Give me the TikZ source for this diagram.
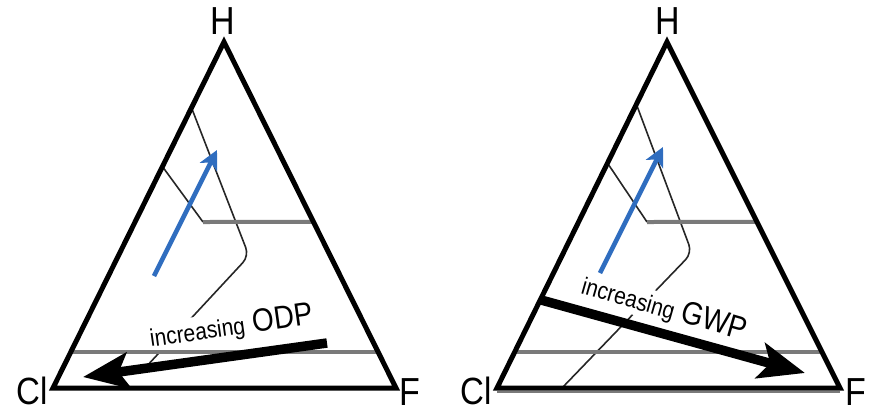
\documentclass[tikz,border=0pt]{standalone}
\usepackage{fontspec}
\setmainfont{Liberation Sans}
\usetikzlibrary{positioning,arrows.meta,calc}
\definecolor{ink}{HTML}{000000}
\definecolor{tieblue}{HTML}{2F6DBF}
\definecolor{tiegray}{HTML}{7A7A7A}
\newcommand{\tallword}[2]{\fontsize{#1}{#1}\selectfont\scalebox{1}[1.15]{#2}}

\begin{document}
\begin{tikzpicture}[x=1pt,y=-1pt,
  edge/.style={draw=ink,line width=5pt,line join=miter},
  tie/.style={draw=tiegray,line width=4pt},
  contour/.style={draw=ink!85,line width=1.6pt,rounded corners=9pt},
  trend/.style={draw=ink,line width=9.5pt,-{Stealth[length=46pt,width=36pt,inset=10pt]}},
  hpath/.style={draw=tieblue,line width=4.5pt,-{Stealth[length=19pt,width=19pt,inset=5pt]}},
  corner/.style={inner sep=0pt},
  note/.style={fill=white,inner sep=1pt,anchor=base west}]
\useasboundingbox (0,0) rectangle (871,413);
% left triangle: ODP
\coordinate (hLeft) at (224,42);
\coordinate (clLeft) at (53,388);
\coordinate (fLeft) at (396,388);
\node[corner] (hLabelL) at (223,21) {\tallword{34}{H}};
\node[corner] (clLabelL) at (32,391) {\tallword{33}{Cl}};
\node[corner] (fLabelL) at (410,392) {\tallword{34}{F}};
\draw[contour] ($(clLeft)!0.81!(hLeft)$) -- (249,256) -- (145,368);
\draw[contour] ($(clLeft)!0.64!(hLeft)$) -- (203,222);
\node[note,rotate=8] (odpNote) at (150,347) {\tallword{21}{increasing}\fontsize{28}{28}\selectfont\ \tallword{28}{ODP}};
\draw[tie] (203,222) -- ($(fLeft)!0.48!(hLeft)$);
\draw[tie] ($(clLeft)!0.104!(hLeft)$) -- ($(fLeft)!0.104!(hLeft)$);
\coordinate (odpFrom) at (327,343);
\coordinate (odpTo) at (83,377);
\draw[trend] (odpFrom) -- (odpTo);
\coordinate (hLeftFrom) at (154,276);
\coordinate (hLeftTo) at (217,150);
\draw[hpath] (hLeftFrom) -- (hLeftTo);
\draw[edge] (hLeft) -- (fLeft) -- (clLeft) -- cycle;
% right triangle: GWP
\coordinate (hRight) at (667,42);
\coordinate (clRight) at (497,388);
\coordinate (fRight) at (840,388);
\node[corner] (hLabelR) at (668,21) {\tallword{34}{H}};
\node[corner] (clLabelR) at (476,391) {\tallword{33}{Cl}};
\node[corner] (fLabelR) at (856,392) {\tallword{34}{F}};
\draw[contour] ($(clRight)!0.82!(hRight)$) -- (692,253) -- (562,388);
\draw[contour] ($(clRight)!0.65!(hRight)$) -- (647,222);
\node[note,rotate=-16] (gwpNote) at (579,293) {\tallword{21}{increasing}\fontsize{28}{28}\selectfont\ \tallword{28}{GWP}};
\draw[tie] (647,222) -- ($(fRight)!0.48!(hRight)$);
\draw[tie] ($(clRight)!0.104!(hRight)$) -- ($(fRight)!0.104!(hRight)$);
\draw[tie,line width=2pt] ([yshift=-4pt]clRight) -- ([yshift=-4pt]fRight);
\coordinate (gwpFrom) at ($(clRight)!0.255!(hRight)$);
\coordinate (gwpTo) at (805,373);
\draw[trend] (gwpFrom) -- (gwpTo);
\coordinate (hRightFrom) at (600,273);
\coordinate (hRightTo) at (663,147);
\draw[hpath] (hRightFrom) -- (hRightTo);
\draw[edge] (hRight) -- (fRight) -- (clRight) -- cycle;
\end{tikzpicture}
\end{document}
